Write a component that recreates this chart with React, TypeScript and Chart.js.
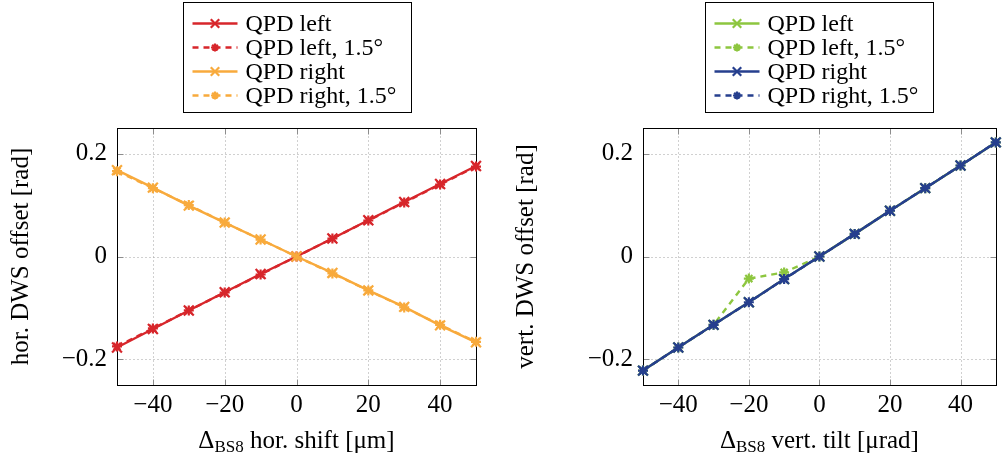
import React, { useEffect, useRef } from 'react';
import { Chart, registerables } from 'chart.js';
import { drawPoint } from 'chart.js/helpers';

Chart.register(...registerables);

// Beam-splitter displacement steps
const shiftSteps = [-50, -40, -30, -20, -10, 0, 10, 20, 30, 40, 50];
const tiltSteps = [-50, -40, -30, -20, -10, 0, 10, 20, 30, 40, 50];

// Horizontal DWS offset [rad] vs. horizontal shift [µm]
const horLeft = [-0.177, -0.141, -0.105, -0.0695, -0.034, 0, 0.035, 0.0705, 0.106, 0.141, 0.176];
const horLeftTilted = [-0.175, -0.14, -0.105, -0.07, -0.035, 0, 0.035, 0.07, 0.105, 0.14, 0.175];
const horRight = [0.168, 0.134, 0.099, 0.066, 0.033, 0, -0.032, -0.066, -0.098, -0.134, -0.167];
const horRightTilted = [0.166, 0.133, 0.1, 0.066, 0.033, 0, -0.033, -0.066, -0.099, -0.133, -0.166];

// Vertical DWS offset [rad] vs. vertical tilt [µrad]
const vertLeft = [-0.222, -0.177, -0.133, -0.089, -0.044, 0, 0.044, 0.089, 0.133, 0.177, 0.222];
const vertLeftTilted = [-0.222, -0.177, -0.133, -0.043, -0.031, 0, 0.044, 0.089, 0.133, 0.177, 0.222];
const vertRight = [-0.222, -0.177, -0.133, -0.089, -0.044, 0, 0.044, 0.089, 0.133, 0.177, 0.222];
const vertRightTilted = [-0.222, -0.177, -0.133, -0.089, -0.044, 0, 0.044, 0.089, 0.133, 0.177, 0.222];

const xTickValues = [-40, -20, 0, 20, 40];
const yTickValues = [-0.2, 0, 0.2];
const seriesNames = ['QPD left', 'QPD left, 1.5\u00b0', 'QPD right', 'QPD right, 1.5\u00b0'];

const FONT = 'Liberation Serif';
const FONT_SIZE = 25;
const LEGEND_SIZE = 24;
const SUB_SIZE = 17;
const RED = '#d7262b';
const ORANGE = '#f8aa3c';
const GREEN = '#8dc63f';
const BLUE = '#263f8e';

function formatTick(v: number): string {
  if (Math.abs(v) < 1e-9) return '0';
  const s = String(Math.round(Math.abs(v) * 1000) / 1000);
  return v < 0 ? '\u2212' + s : s;
}

function makeDatasets(xs: number[], series: number[][], colors: string[]) {
  return series.map((vals, i) => {
    const tilted = i % 2 === 1;
    const color = colors[Math.floor(i / 2)];
    return {
      label: seriesNames[i],
      data: xs.map((x, j) => ({ x, y: vals[j] })),
      borderColor: color,
      backgroundColor: color,
      borderWidth: 2.4,
      borderDash: tilted ? [6, 5] : [],
      pointStyle: tilted ? 'star' : 'crossRot',
      pointRadius: tilted ? 5 : 7,
      pointBorderWidth: 2.2,
      pointBorderColor: color,
      pointBackgroundColor: color,
      tension: 0,
      clip: false as any,
      order: 3 - i,
    };
  });
}

function strokeLine(ctx: CanvasRenderingContext2D, x1: number, y1: number, x2: number, y2: number) {
  ctx.beginPath();
  ctx.moveTo(x1, y1);
  ctx.lineTo(x2, y2);
  ctx.stroke();
}

// Dotted grid, inward tick marks and the surrounding box
const framePlugin = {
  id: 'axisFrame',
  beforeDatasetsDraw(chart: any) {
    const { ctx, chartArea: a, scales } = chart;
    const xs = scales.x;
    const ys = scales.y;
    const L = Math.round(a.left) + 0.5;
    const R = Math.round(a.right) + 0.5;
    const T = Math.round(a.top) + 0.5;
    const B = Math.round(a.bottom) + 0.5;
    ctx.save();
    ctx.lineWidth = 1;
    ctx.strokeStyle = '#a0a0a0';
    ctx.setLineDash([1, 3]);
    xTickValues.forEach((v) => {
      const p = Math.round(xs.getPixelForValue(v)) + 0.5;
      strokeLine(ctx, p, T, p, B);
    });
    yTickValues.forEach((v) => {
      const p = Math.round(ys.getPixelForValue(v)) + 0.5;
      strokeLine(ctx, L, p, R, p);
    });
    ctx.setLineDash([]);
    ctx.strokeStyle = '#8c8c8c';
    const t = 6;
    xTickValues.forEach((v) => {
      const p = Math.round(xs.getPixelForValue(v)) + 0.5;
      strokeLine(ctx, p, B, p, B - t);
      strokeLine(ctx, p, T, p, T + t);
    });
    yTickValues.forEach((v) => {
      const p = Math.round(ys.getPixelForValue(v)) + 0.5;
      strokeLine(ctx, L, p, L + t, p);
      strokeLine(ctx, R, p, R - t, p);
    });
    ctx.strokeStyle = '#000';
    ctx.strokeRect(L, T, R - L, B - T);
    ctx.restore();
  },
};

// Boxed legend above the plot and the x-axis label with its subscript
const decorPlugin = {
  id: 'panelDecor',
  afterDraw(chart: any, _args: any, opts: any) {
    const { ctx, chartArea: a } = chart;
    const cx = (a.left + a.right) / 2;
    ctx.save();

    const boxW = 228;
    const boxH = 110;
    const bx = Math.round(cx - boxW / 2) + 0.5;
    const by = 2.5;
    ctx.fillStyle = '#fff';
    ctx.fillRect(bx, by, boxW, boxH);
    ctx.strokeStyle = '#000';
    ctx.lineWidth = 1;
    ctx.strokeRect(bx, by, boxW, boxH);

    chart.data.datasets.forEach((ds: any, i: number) => {
      const y = 23.5 + i * 24;
      const x0 = bx + 9;
      const x1 = bx + 54;
      ctx.strokeStyle = ds.borderColor;
      ctx.fillStyle = ds.borderColor;
      ctx.lineWidth = ds.borderWidth;
      ctx.setLineDash(ds.borderDash || []);
      strokeLine(ctx, x0, y, x1, y);
      ctx.setLineDash([]);
      ctx.lineWidth = ds.pointBorderWidth;
      drawPoint(ctx, { pointStyle: ds.pointStyle, rotation: 0, radius: ds.pointRadius - 1, borderWidth: ds.pointBorderWidth } as any, (x0 + x1) / 2, y);
      ctx.fillStyle = '#000';
      ctx.font = `${LEGEND_SIZE}px "${FONT}"`;
      ctx.textBaseline = 'middle';
      ctx.textAlign = 'left';
      ctx.fillText(ds.label, bx + 62, y + 1);
    });

    // x-axis label: Δ with subscript BS8, then the description
    const base = 448;
    ctx.fillStyle = '#000';
    ctx.textBaseline = 'alphabetic';
    ctx.textAlign = 'left';
    ctx.font = `${FONT_SIZE}px "${FONT}"`;
    const w1 = ctx.measureText('\u0394').width;
    const w3 = ctx.measureText(opts.xTitle).width;
    ctx.font = `${SUB_SIZE}px "${FONT}"`;
    const w2 = ctx.measureText('BS8').width;
    let x = cx - (w1 + w2 + w3) / 2;
    ctx.font = `${FONT_SIZE}px "${FONT}"`;
    ctx.fillText('\u0394', x, base);
    x += w1;
    ctx.font = `${SUB_SIZE}px "${FONT}"`;
    ctx.fillText('BS8', x, base + 4);
    x += w2;
    ctx.font = `${FONT_SIZE}px "${FONT}"`;
    ctx.fillText(opts.xTitle, x, base);
    ctx.restore();
  },
};

interface PanelProps {
  xs: number[];
  series: number[][];
  colors: string[];
  yTitle: string;
  xTitle: string;
  yAxisWidth: number;
  rightPad: number;
  left: number;
}

function Panel({ xs, series, colors, yTitle, xTitle, yAxisWidth, rightPad, left }: PanelProps) {
  const ref = useRef<HTMLCanvasElement | null>(null);

  useEffect(() => {
    if (!ref.current) return;
    const tickFont = { family: FONT, size: FONT_SIZE };
    const chart = new Chart(ref.current, {
      type: 'line',
      data: { datasets: makeDatasets(xs, series, colors) as any },
      options: {
        animation: false,
        responsive: false,
        layout: { padding: { left: 0, right: rightPad, top: 128, bottom: 0 } },
        plugins: {
          legend: { display: false },
          tooltip: { enabled: false },
          panelDecor: { xTitle },
        } as any,
        scales: {
          x: {
            type: 'linear',
            min: -50,
            max: 50,
            grid: { display: false, drawTicks: false },
            border: { display: false },
            ticks: {
              font: tickFont,
              color: '#000',
              padding: 5,
              maxRotation: 0,
              callback: (v: any) => formatTick(Number(v)),
            },
            afterBuildTicks: (scale: any) => {
              scale.ticks = xTickValues.map((v) => ({ value: v }));
            },
            afterFit: (scale: any) => {
              scale.height = 77;
            },
          },
          y: {
            type: 'linear',
            min: -0.25,
            max: 0.25,
            grid: { display: false, drawTicks: false },
            border: { display: false },
            title: {
              display: true,
              text: yTitle,
              font: tickFont,
              color: '#000',
              padding: { top: 6, bottom: 0 },
            },
            ticks: {
              font: tickFont,
              color: '#000',
              padding: 10,
              callback: (v: any) => formatTick(Number(v)),
            },
            afterBuildTicks: (scale: any) => {
              scale.ticks = yTickValues.map((v) => ({ value: v }));
            },
            afterFit: (scale: any) => {
              scale.width = yAxisWidth;
            },
          },
        },
      },
      plugins: [framePlugin, decorPlugin],
    });
    return () => chart.destroy();
  }, [xs, series, colors, yTitle, xTitle, yAxisWidth, rightPad]);

  return (
    <canvas
      ref={ref}
      width={500}
      height={462}
      style={{ position: 'absolute', left, top: 0, width: 500, height: 462 }}
    />
  );
}

const horSeries = [horLeft, horLeftTilted, horRight, horRightTilted];
const vertSeries = [vertLeft, vertLeftTilted, vertRight, vertRightTilted];
const horColors = [RED, ORANGE];
const vertColors = [GREEN, BLUE];

export default function App() {
  return (
    <div style={{ position: 'absolute', left: 0, top: 0, width: 1005, height: 462, background: '#fff', overflow: 'hidden' }}>
      <Panel
        xs={shiftSteps}
        series={horSeries}
        colors={horColors}
        yTitle={'hor. DWS offset [rad]'}
        xTitle={' hor. shift [\u03bcm]'}
        yAxisWidth={117}
        rightPad={24}
        left={0}
      />
      <Panel
        xs={tiltSteps}
        series={vertSeries}
        colors={vertColors}
        yTitle={'vert. DWS offset [rad]'}
        xTitle={' vert. tilt [\u03bcrad]'}
        yAxisWidth={138}
        rightPad={3}
        left={505}
      />
    </div>
  );
}
